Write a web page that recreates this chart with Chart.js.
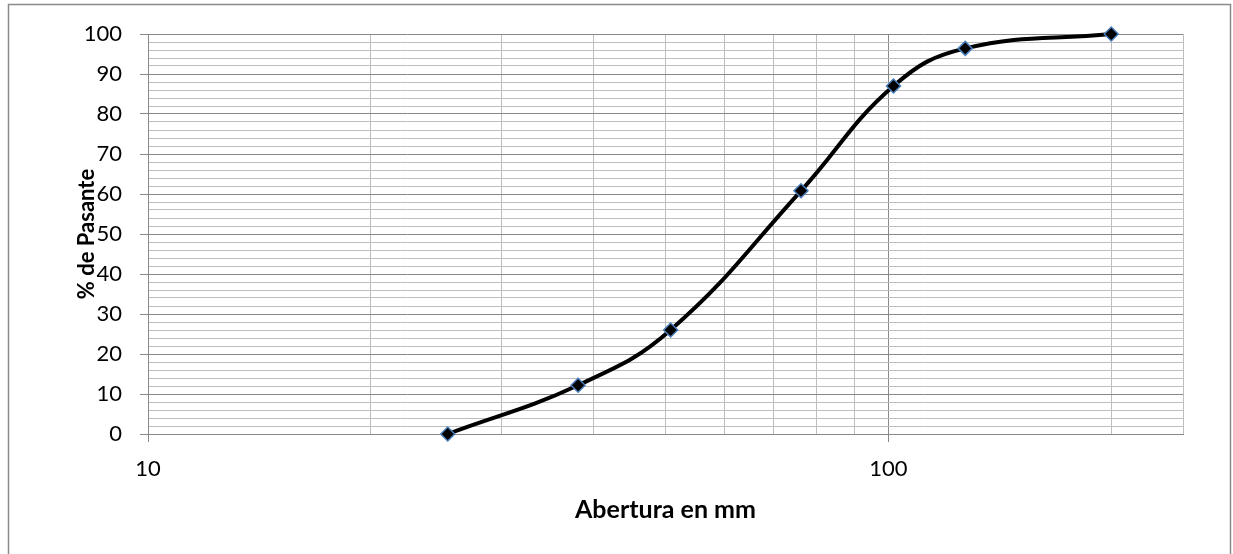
<!DOCTYPE html>
<html>
<head>
<meta charset="utf-8">
<script src="https://cdn.jsdelivr.net/npm/chart.js@4.4.1/dist/chart.umd.min.js"></script>
<style>
  html, body { margin: 0; padding: 0; background: #fff; }
  #wrap { width: 1233px; height: 554px; }
</style>
</head>
<body>
<div id="wrap"><canvas id="c" width="1233" height="554"></canvas></div>
<script>
// Data
const sieveSizesMm = [25.4, 38.1, 50.8, 76.2, 101.6, 127, 200];
const percentPassing = [0, 12.2, 26, 60.8, 87, 96.4, 100];
const xGridValues = [10, 20, 30, 40, 50, 60, 70, 80, 90, 100, 200, 250];
const xLabelValues = [10, 100];
const yMin = 0, yMax = 100, yStep = 2, yLabelStep = 10;
const xMin = 10, xMax = 250;
const xTitle = 'Abertura en mm';
const yTitle = '% de Pasante';

const MAJOR = '#878787';
const MINOR = '#bdbdbd';
const FONT = 'Lato, "Open Sans", sans-serif';

const points = sieveSizesMm.map((x, i) => ({ x: x, y: percentPassing[i] }));

const framePlugin = {
  id: 'frame',
  beforeDraw(chart) {
    const ctx = chart.ctx;
    ctx.save();
    ctx.fillStyle = '#ffffff';
    ctx.fillRect(0, 0, chart.width, chart.height);
    ctx.strokeStyle = '#8a8a8a';
    ctx.lineWidth = 1.5;
    ctx.strokeRect(8.5, 4.5, 1222, 600);
    ctx.restore();
  }
};

new Chart(document.getElementById('c'), {
  type: 'scatter',
  data: {
    datasets: [{
      data: points,
      showLine: true,
      borderColor: '#000000',
      borderWidth: 4,
      tension: 0.42,
      clip: false,
      pointStyle: 'rectRot',
      pointRadius: 7,
      pointHoverRadius: 7,
      pointBackgroundColor: '#000000',
      pointBorderColor: '#4a7ebb',
      pointBorderWidth: 1.5
    }]
  },
  options: {
    responsive: false,
    animation: false,
    events: [],
    layout: { padding: { top: 34, right: 50, bottom: 0, left: 0 } },
    plugins: { legend: { display: false }, tooltip: { enabled: false } },
    scales: {
      x: {
        type: 'logarithmic',
        position: 'bottom',
        min: xMin,
        max: xMax,
        bounds: 'data',
        afterBuildTicks: s => { s.ticks = xGridValues.map(v => ({ value: v })); },
        afterFit: s => { s.height = 120; },
        border: { display: true, color: MAJOR, width: 1 },
        grid: {
          color: c => xLabelValues.includes(c.tick && c.tick.value) ? MAJOR : MINOR,
          tickColor: c => xLabelValues.includes(c.tick && c.tick.value) ? MAJOR : 'rgba(0,0,0,0)',
          tickLength: 8,
          lineWidth: 1
        },
        ticks: {
          autoSkip: false,
          maxRotation: 0,
          padding: 14,
          color: '#000',
          font: { family: FONT, size: 22 },
          callback: v => xLabelValues.includes(v) ? String(v) : ''
        },
        title: {
          display: true,
          text: xTitle,
          color: '#000',
          font: { family: FONT, size: 25, weight: 'bold' },
          padding: { top: 0, bottom: 29 }
        }
      },
      y: {
        type: 'linear',
        position: 'left',
        min: yMin,
        max: yMax,
        afterFit: s => { s.width = 148; },
        border: { display: true, color: MAJOR, width: 1 },
        grid: {
          color: c => (c.tick && c.tick.value % yLabelStep === 0) ? MAJOR : MINOR,
          tickColor: c => (c.tick && c.tick.value % yLabelStep === 0) ? MAJOR : 'rgba(0,0,0,0)',
          tickLength: 8,
          lineWidth: 1
        },
        ticks: {
          stepSize: yStep,
          autoSkip: false,
          padding: 18,
          color: '#000',
          font: { family: FONT, size: 22 },
          callback: v => (v % yLabelStep === 0) ? String(v) : ''
        },
        title: {
          display: true,
          text: yTitle,
          color: '#000',
          font: { family: FONT, size: 22, weight: 'bold' },
          padding: { top: 74, bottom: 0 }
        }
      }
    }
  },
  plugins: [framePlugin]
});
</script>
</body>
</html>
